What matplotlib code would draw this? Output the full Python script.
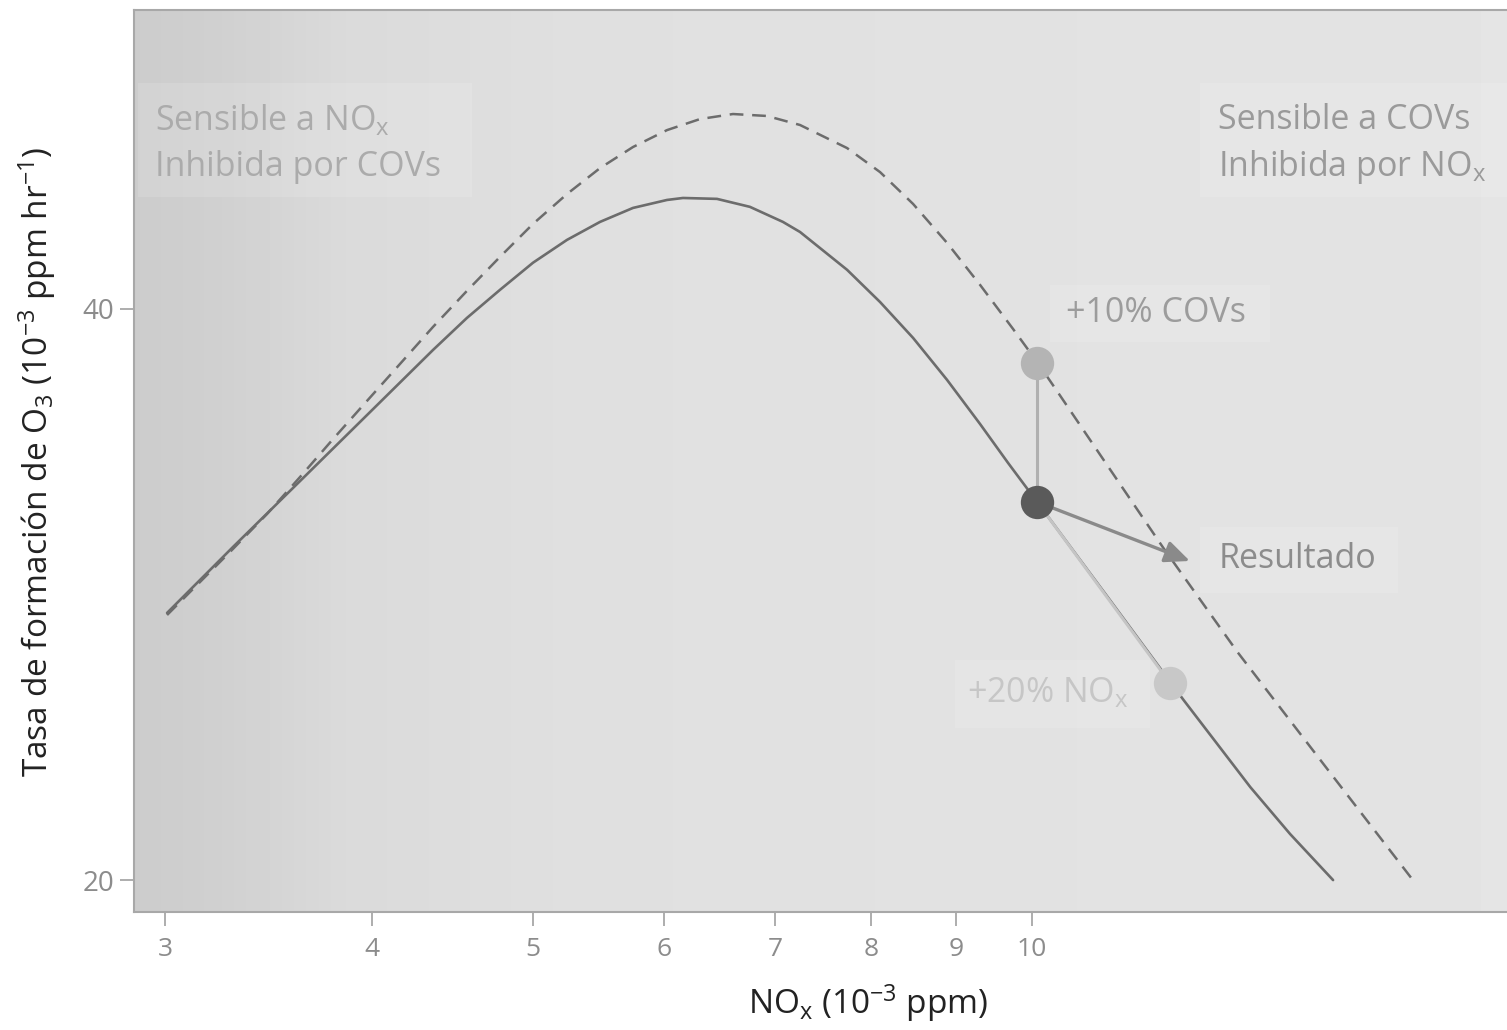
import numpy as np
import matplotlib
matplotlib.use("Agg")
import matplotlib.pyplot as plt
from matplotlib.patches import Rectangle

plt.rcParams['font.family'] = ['Open Sans', 'DejaVu Sans']
plt.rcParams['mathtext.fontset'] = 'custom'
plt.rcParams['mathtext.rm'] = 'Open Sans'
plt.rcParams['mathtext.it'] = 'Open Sans:italic'

# isopleth at base VOC level (solid)
nox_base = [3.008, 3.297, 3.618, 3.971, 4.352, 4.562, 4.776, 5.000, 5.242, 5.488, 5.745,
            6.023, 6.158, 6.456, 6.758, 7.075, 7.245, 7.734, 8.097, 8.477, 8.887, 9.303,
            9.673, 10.07, 11.15, 12.34, 13.54, 14.31, 15.19]
o3_base = [27.66, 29.97, 32.46, 35.17, 38.06, 39.57, 40.94, 42.31, 43.50, 44.46, 45.22,
           45.66, 45.77, 45.72, 45.28, 44.46, 43.92, 41.95, 40.34, 38.62, 36.70, 34.79,
           33.18, 31.65, 28.07, 24.89, 22.39, 21.15, 20.0]

# isopleth with +10% VOC (dashed)
nox_voc = [3.008, 3.149, 3.297, 3.456, 3.618, 3.788, 3.971, 4.157, 4.352, 4.562, 4.776,
           5.000, 5.242, 5.488, 5.745, 6.023, 6.305, 6.601, 6.920, 7.245, 7.734, 8.097,
           8.477, 8.887, 9.303, 9.740, 10.07, 10.35, 11.15, 12.00, 13.30, 15.02, 16.97]
o3_voc = [27.59, 28.72, 29.90, 31.19, 32.62, 34.16, 35.78, 37.42, 39.14, 40.89, 42.61,
          44.35, 45.99, 47.46, 48.69, 49.70, 50.37, 50.68, 50.56, 50.01, 48.63, 47.23,
          45.44, 43.34, 41.19, 39.04, 37.51, 36.22, 32.90, 29.93, 26.38, 22.97, 20.0]

# scenario points
start_pt = (10.07, 31.65)
voc_pt = (10.07, 37.47)
nox_pt = (12.11, 25.41)
result_pt = (12.45, 29.46)

xticks = [3, 4, 5, 6, 7, 8, 9, 10]
yticks = [20, 40]

W, H = 1507, 1030
fig = plt.figure(figsize=(W / 100, H / 100), dpi=100)
rect = [134 / W, 1 - 912 / H, (1507 - 134) / W, (912 - 10) / H]

# background gradient, darker on the left
bg = fig.add_axes(rect, zorder=0)
xs = np.linspace(0, 1, 400)
shade = np.interp(xs, [0, 0.06, 0.15, 0.32, 1.0], [0.80, 0.815, 0.855, 0.877, 0.895])
bg.imshow(np.tile(shade, (10, 1)), cmap='gray', vmin=0, vmax=1, aspect='auto',
          extent=[0, 1, 0, 1], interpolation='bilinear')
bg.set_axis_off()

ax = fig.add_axes(rect, zorder=1)
ax.patch.set_alpha(0)
ax.set_xscale('log')
ax.set_yscale('log')
ax.set_xlim(2.873, 19.34)
ax.set_ylim(19.24, 57.5)

ax.plot(nox_base, o3_base, color='#6c6c6c', lw=1.9, solid_capstyle='round',
        solid_joinstyle='round', zorder=3)
ax.plot(nox_voc, o3_voc, color='#6c6c6c', lw=1.8, dashes=(5.5, 3.5), zorder=3)

ax.plot([start_pt[0], voc_pt[0]], [start_pt[1], voc_pt[1]], color='#b0b0b0', lw=2.2, zorder=4)
ax.plot([start_pt[0], nox_pt[0]], [start_pt[1], nox_pt[1]], color='#c4c4c4', lw=2.2, zorder=4)
ax.annotate('', xy=result_pt, xytext=start_pt,
            arrowprops=dict(arrowstyle='-|>,head_length=0.5,head_width=0.22', color='#8a8a8a',
                            lw=2.4, mutation_scale=30, shrinkA=0, shrinkB=0), zorder=4)

ax.plot(*voc_pt, 'o', ms=24, color='#b4b4b4', mec='none', zorder=5)
ax.plot(*nox_pt, 'o', ms=24, color='#c8c8c8', mec='none', zorder=5)
ax.plot(*start_pt, 'o', ms=24, color='#5a5a5a', mec='none', zorder=6)


def fx(px):
    return (px - 134) / 1373


def fy(py):
    return (912 - py) / 902


# label boxes (slightly lighter than the background)
for x0, x1, y0, y1 in [(138, 472, 83, 197), (1200, 1507, 83, 197), (1050, 1270, 285, 342),
                       (1200, 1398, 527, 593), (955, 1150, 660, 728)]:
    ax.add_patch(Rectangle((fx(x0), fy(y1)), fx(x1) - fx(x0), fy(y0) - fy(y1),
                           transform=ax.transAxes, facecolor='white', alpha=0.13,
                           edgecolor='none', zorder=2))

fs = 24.5
ax.text(fx(155), fy(120), 'Sensible a NO$_\\mathrm{x}$', transform=ax.transAxes,
        fontsize=fs, color='#ababab', va='center')
ax.text(fx(155), fy(167), 'Inhibida por COVs', transform=ax.transAxes,
        fontsize=fs, color='#ababab', va='center')
ax.text(fx(1218), fy(120), 'Sensible a COVs', transform=ax.transAxes,
        fontsize=fs, color='#9a9a9a', va='center')
ax.text(fx(1218), fy(167), 'Inhibida por NO$_\\mathrm{x}$', transform=ax.transAxes,
        fontsize=fs, color='#9a9a9a', va='center')
ax.text(fx(1066), fy(313), '+10% COVs', transform=ax.transAxes,
        fontsize=fs, color='#9c9c9c', va='center')
ax.text(fx(1219), fy(559), 'Resultado', transform=ax.transAxes,
        fontsize=fs, color='#8c8c8c', va='center')
ax.text(fx(967), fy(693), '+20% NO$_\\mathrm{x}$', transform=ax.transAxes,
        fontsize=fs, color='#c6c6c6', va='center')

ax.set_xticks(xticks)
ax.set_xticklabels([str(v) for v in xticks])
ax.set_yticks(yticks)
ax.set_yticklabels([str(v) for v in yticks])
ax.minorticks_off()
ax.tick_params(axis='x', length=10, width=1.2, color='#a0a0a0', labelcolor='#8c8c8c',
               labelsize=19, pad=8)
ax.tick_params(axis='y', length=10, width=1.2, color='#a0a0a0', labelcolor='#8c8c8c',
               labelsize=20, pad=4)

for s in ['left', 'top', 'bottom']:
    ax.spines[s].set_color('#a8a8a8')
    ax.spines[s].set_linewidth(1.5)
ax.spines['right'].set_visible(False)

ax.set_xlabel('NO$_\\mathrm{x}$ (10$^{-3}$ ppm)', fontsize=24, color='#222222', va='center')
ax.set_ylabel('Tasa de formación de O$_3$ (10$^{-3}$ ppm hr$^{-1}$)', fontsize=24,
              color='#222222', va='center')
ax.xaxis.set_label_coords(fx(868), fy(1003))
ax.yaxis.set_label_coords(fx(37), fy(462))

fig.savefig('out.png', dpi=100, facecolor='white')
